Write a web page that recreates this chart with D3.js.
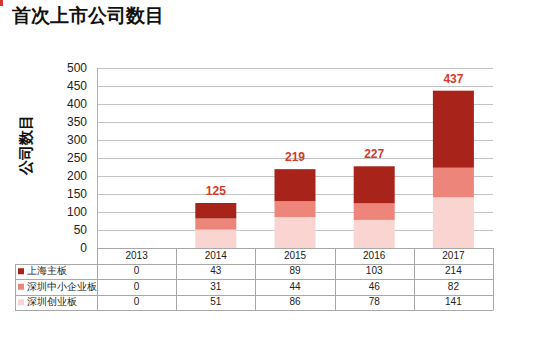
<!DOCTYPE html>
<html><head><meta charset="utf-8">
<script src="https://cdn.jsdelivr.net/npm/d3@7"></script>
<style>
body{margin:0;background:#fff;}
text{font-family:"Liberation Sans",Arial,sans-serif;}
</style></head>
<body><svg id="c" width="554" height="362"></svg>
<script>
const years = ["2013","2014","2015","2016","2017"];
const seriesNames = ["上海主板","深圳中小企业板","深圳创业板"];
const shMain = [0,43,89,103,214];
const szSME = [0,31,44,46,82];
const szGEM = [0,51,86,78,141];
const totals = [0,125,219,227,437];
const yTicks = [0,50,100,150,200,250,300,350,400,450,500];
const colors = ["#A8241A","#EE857A","#F9D4D1"];

(function(){
const svg = d3.select("#c");
const pL=97, pR=493, pT=68, pB=248;
const x = d3.scaleBand().domain(years).range([pL,pR]).paddingInner(0).paddingOuter(0);
const y = d3.scaleLinear().domain([0,500]).range([pB,pT]);

svg.append("rect").attr("x",0).attr("y",0).attr("width",3).attr("height",6).attr("fill","#D23A30");
svg.append("text").attr("x",12).attr("y",22).attr("font-size",19).attr("font-weight","bold")
  .attr("font-family","'Noto Sans CJK SC',sans-serif").attr("fill","#111").text("首次上市公司数目");

svg.append("g").selectAll("line").data(yTicks.filter(d=>d>0)).join("line")
  .attr("x1",pL).attr("x2",pR).attr("y1",d=>Math.round(y(d))+0.5).attr("y2",d=>Math.round(y(d))+0.5)
  .attr("stroke","#C4C4C4").attr("stroke-width",1);

const yAxis = d3.axisLeft(y).tickValues(yTicks).tickSize(0).tickPadding(10);
const ga = svg.append("g").attr("transform",`translate(${pL},0)`).call(yAxis);
ga.select(".domain").remove();
ga.selectAll("text").attr("font-size",12).attr("fill","#222").attr("font-family","'Liberation Sans',Arial,sans-serif");

svg.append("text").attr("transform","translate(27,145) rotate(-90)").attr("text-anchor","middle")
  .attr("dominant-baseline","middle").attr("font-size",15).attr("font-weight","bold")
  .attr("font-family","'Noto Sans CJK SC',sans-serif").attr("fill","#111").text("公司数目");

const rows = years.map((yr,i)=>({year:yr, s0:szGEM[i], s1:szSME[i], s2:shMain[i]}));
const stack = d3.stack().keys(["s0","s1","s2"])(rows);
const stackColors = [colors[2],colors[1],colors[0]];
const bw = 41;
svg.append("g").selectAll("g").data(stack).join("g").attr("fill",(d,i)=>stackColors[i])
  .selectAll("rect").data(d=>d).join("rect")
  .attr("x",d=>x(d.data.year)+x.bandwidth()/2-bw/2).attr("width",bw)
  .attr("y",d=>y(d[1])).attr("height",d=>y(d[0])-y(d[1]));

svg.append("g").selectAll("text").data(years.map((yr,i)=>({yr,t:totals[i]})).filter(d=>d.t>0)).join("text")
  .attr("x",d=>x(d.yr)+x.bandwidth()/2).attr("y",d=>y(d.t)-8)
  .attr("text-anchor","middle").attr("font-size",12).attr("font-weight","bold").attr("fill","#D43A2E")
  .text(d=>d.t);

svg.append("line").attr("x1",pL).attr("x2",pR).attr("y1",pB+0.5).attr("y2",pB+0.5).attr("stroke","#9A9A9A");
svg.append("line").attr("x1",pL+0.5).attr("x2",pL+0.5).attr("y1",pT).attr("y2",pB).attr("stroke","#B0B0B0");

const rowH = 15.5, tblTop = pB, legLeft = 15;
const tableVals = [shMain, szSME, szGEM];
const lineCol = "#A8A8A8";
const tg = svg.append("g");
for(let r=0;r<=4;r++){
  const yy = Math.round(tblTop + r*rowH)+0.5;
  tg.append("line").attr("x1", r===0?pL:legLeft).attr("x2",pR).attr("y1",yy).attr("y2",yy).attr("stroke",lineCol);
}
const tblBottom = Math.round(tblTop+4*rowH)+0.5;
tg.append("line").attr("x1",legLeft+0.5).attr("x2",legLeft+0.5).attr("y1",Math.round(tblTop+rowH)+0.5).attr("y2",tblBottom).attr("stroke",lineCol);
years.forEach(yr=>{
  const xx = Math.round(x(yr))+0.5;
  tg.append("line").attr("x1",xx).attr("x2",xx).attr("y1",tblTop).attr("y2",tblBottom).attr("stroke",lineCol);
});
tg.append("line").attr("x1",pR+0.5).attr("x2",pR+0.5).attr("y1",tblTop).attr("y2",tblBottom).attr("stroke",lineCol);
tg.selectAll("text.h").data(years).join("text").attr("class","h")
  .attr("x",d=>x(d)+x.bandwidth()/2).attr("y",tblTop+rowH/2+0.5).attr("text-anchor","middle")
  .attr("dominant-baseline","middle").attr("font-size",10).attr("fill","#222").text(d=>d);
seriesNames.forEach((nm,r)=>{
  const cy = tblTop+(r+1)*rowH+rowH/2+0.5;
  tg.append("rect").attr("x",legLeft+3).attr("y",cy-3.5).attr("width",6).attr("height",6).attr("fill",colors[r]);
  tg.append("text").attr("x",legLeft+12).attr("y",cy).attr("dominant-baseline","middle")
    .attr("font-size",9.5).attr("font-family","'Noto Sans CJK SC',sans-serif").attr("fill","#222").text(nm);
  tg.selectAll(null).data(tableVals[r]).join("text")
    .attr("x",(d,i)=>x(years[i])+x.bandwidth()/2).attr("y",cy).attr("text-anchor","middle")
    .attr("dominant-baseline","middle").attr("font-size",10).attr("fill","#222").text(d=>d);
});
})();
</script></body></html>
